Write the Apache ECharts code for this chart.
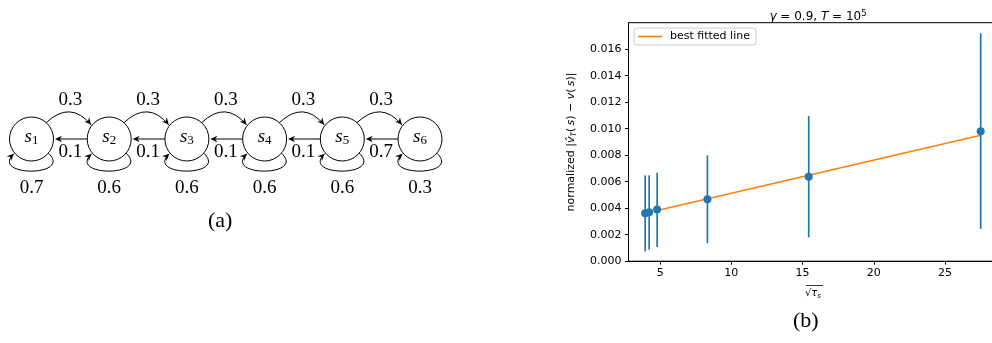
<!DOCTYPE html>
<html>
<head>
<meta charset="utf-8">
<script src="https://cdn.jsdelivr.net/npm/echarts@6/dist/echarts.min.js"></script>
<style>
  html, body { margin: 0; padding: 0; background: #fff; }
  #chart { width: 992px; height: 343px; }
</style>
</head>
<body>
<div id="chart"></div>
<script>
// (a) chain: states and transition probabilities
const states = [1, 2, 3, 4, 5, 6]
const forwardProb = [0.3, 0.3, 0.3, 0.3, 0.3] // s_i -> s_i+1
const backwardProb = [0.1, 0.1, 0.1, 0.1, 0.7] // s_i+1 -> s_i
const stayProb = [0.7, 0.6, 0.6, 0.6, 0.6, 0.3] // s_i -> s_i

// (b) error vs sqrt(tau_s)
const sqrtTau = [3.95, 4.23, 4.79, 8.32, 15.43, 27.5]
const errMean = [0.00362, 0.00370, 0.00390, 0.00468, 0.00638, 0.00981]
const errLow = [0.00074, 0.00087, 0.00108, 0.00135, 0.00180, 0.00244]
const errHigh = [0.00648, 0.00648, 0.00668, 0.00799, 0.01095, 0.01721]
const fitX = [4.79, 27.5]
const fitY = [0.00383, 0.00951]
const xTicks = [5, 10, 15, 20, 25]
const yTicks = [0, 0.002, 0.004, 0.006, 0.008, 0.010, 0.012, 0.014, 0.016]

const serif = '"Liberation Serif", "DejaVu Serif", serif'
const sans = '"DejaVu Sans", sans-serif'
const blue = '#1f77b4'
const orange = '#ff7f0e'

// arrow head (stealth-like), tip at p, pointing along unit vector d
function arrowHead(p, d) {
  const L = 7, W = 3.3, notch = 2.2
  const nx = -d[1], ny = d[0]
  const bx = p[0] - d[0] * L, by = p[1] - d[1] * L
  return {
    type: 'polygon',
    shape: {
      points: [
        p,
        [bx + nx * W, by + ny * W],
        [p[0] - d[0] * (L - notch), p[1] - d[1] * (L - notch)],
        [bx - nx * W, by - ny * W],
      ],
    },
    style: { fill: '#000' },
  }
}
function unit(a, b) {
  const dx = b[0] - a[0], dy = b[1] - a[1]
  const l = Math.hypot(dx, dy)
  return [dx / l, dy / l]
}
function probText(x, y, txt) {
  return {
    type: 'text',
    style: { text: txt, x, y, align: 'center', verticalAlign: 'middle', font: '19px ' + serif, fill: '#000' },
  }
}
const deg = Math.PI / 180

function renderForward(params, api) {
  const i = api.value(0)
  const a = api.coord([i, 0]), b = api.coord([i + 1, 0])
  const s = [a[0] + 22 * Math.cos(48 * deg), a[1] - 22 * Math.sin(48 * deg)]
  const e = [b[0] - 23 * Math.cos(38 * deg), b[1] - 23 * Math.sin(38 * deg)]
  const c = [(a[0] + b[0]) / 2, a[1] - 39]
  return {
    type: 'group',
    children: [
      { type: 'bezierCurve', shape: { x1: s[0], y1: s[1], x2: e[0], y2: e[1], cpx1: c[0], cpy1: c[1] }, style: { stroke: '#000', lineWidth: 1, fill: null } },
      arrowHead(e, unit(c, e)),
      probText((a[0] + b[0]) / 2, a[1] - 39, api.value(2).toFixed(1)),
    ],
  }
}

function renderBackward(params, api) {
  const i = api.value(0)
  const a = api.coord([i, 0]), b = api.coord([i + 1, 0])
  const tip = [a[0] + 23.5, a[1]]
  return {
    type: 'group',
    children: [
      { type: 'line', shape: { x1: b[0] - 22, y1: b[1], x2: tip[0] + 3, y2: tip[1] }, style: { stroke: '#000', lineWidth: 1 } },
      arrowHead(tip, [-1, 0]),
      probText((a[0] + b[0]) / 2, a[1] + 13, api.value(2).toFixed(1)),
    ],
  }
}

function renderLoop(params, api) {
  const a = api.coord([api.value(0), 0])
  const s = [a[0] + 22 * Math.cos(40 * deg), a[1] + 22 * Math.sin(40 * deg)]
  const e = [a[0] - 23 * Math.cos(40 * deg), a[1] + 23 * Math.sin(40 * deg)]
  const c1 = [a[0] + 42, a[1] + 38], c2 = [a[0] - 42, a[1] + 38]
  return {
    type: 'group',
    children: [
      { type: 'bezierCurve', shape: { x1: s[0], y1: s[1], x2: e[0], y2: e[1], cpx1: c1[0], cpy1: c1[1], cpx2: c2[0], cpy2: c2[1] }, style: { stroke: '#000', lineWidth: 1, fill: null } },
      arrowHead(e, unit(c2, e)),
      probText(a[0], a[1] + 49, api.value(2).toFixed(1)),
    ],
  }
}

function renderErrorBar(params, api) {
  const p1 = api.coord([api.value(0), api.value(1)])
  const p2 = api.coord([api.value(0), api.value(2)])
  return {
    type: 'line',
    shape: { x1: p1[0], y1: p1[1], x2: p2[0], y2: p2[1] },
    style: { stroke: blue, lineWidth: 1.7 },
  }
}

const chartDom = document.getElementById('chart')
const chart = echarts.init(chartDom)

const option = {
  animation: false,
  backgroundColor: '#fff',
  title: {
    text: '{i|γ} = 0.9, {i|T} = 10{sup|5}',
    left: 813,
    textAlign: 'center',
    top: 4,
    textStyle: {
      fontFamily: sans,
      fontSize: 12,
      fontWeight: 'normal',
      color: '#000',
      rich: {
        i: { fontFamily: sans, fontSize: 12, fontStyle: 'italic', lineHeight: 15, color: '#000' },
        sup: { fontFamily: sans, fontSize: 8.5, verticalAlign: 'top', lineHeight: 9, color: '#000' },
      },
    },
  },
  legend: {
    left: 634,
    top: 28,
    data: [{ name: 'best fitted line', icon: 'rect' }],
    itemWidth: 24,
    itemHeight: 1.6,
    padding: [3, 6, 3, 4],
    borderColor: '#ccc',
    borderWidth: 1,
    borderRadius: 3,
    backgroundColor: '#fff',
    textStyle: { fontFamily: sans, fontSize: 11, color: '#000', padding: [0, 0, 0, 3] },
  },
  grid: [
    // diagram area, hidden axes: state index -> x, 0 -> node row
    { left: 0, top: 39, width: 460, height: 200, show: false, outerBoundsMode: 'none' },
    { left: 628.5, top: 22.7, width: 369, height: 238.5, show: true, borderColor: '#000', borderWidth: 1, backgroundColor: 'transparent', outerBoundsMode: 'none' },
  ],
  xAxis: [
    { gridIndex: 0, type: 'value', min: 1 - 31.5 / 77.7, max: 1 - 31.5 / 77.7 + 460 / 77.7, show: false },
    {
      gridIndex: 1,
      type: 'value',
      min: 2.78,
      max: 28.68,
      axisLine: { show: true, lineStyle: { color: '#000', width: 1 } },
      axisTick: { show: true, length: 3.5, lineStyle: { color: '#000' }, customValues: xTicks },
      axisLabel: { customValues: xTicks, fontFamily: sans, fontSize: 11, color: '#000', margin: 6 },
      splitLine: { show: false },
      name: '√{t|τ}{sub|s}',
      nameLocation: 'middle',
      nameGap: 26,
      nameTextStyle: {
        fontFamily: sans,
        fontSize: 10,
        color: '#000',
        rich: {
          t: { fontFamily: sans, fontSize: 10, fontStyle: 'italic', lineHeight: 12, color: '#000' },
          sub: { fontFamily: sans, fontSize: 7, fontStyle: 'italic', verticalAlign: 'bottom', lineHeight: 6, color: '#000' },
        },
      },
    },
  ],
  yAxis: [
    { gridIndex: 0, type: 'value', min: -1, max: 1, inverse: true, show: false },
    {
      gridIndex: 1,
      type: 'value',
      min: 0,
      max: 0.0180,
      axisLine: { show: true, lineStyle: { color: '#000', width: 1 } },
      axisTick: { show: true, length: 3.5, lineStyle: { color: '#000' }, customValues: yTicks },
      axisLabel: { customValues: yTicks, fontFamily: sans, fontSize: 11, color: '#000', margin: 7, formatter: v => v.toFixed(3) },
      splitLine: { show: false },
      name: 'normalized |{i|v̂}{sub|T}(\u2009{i|s}) − {i|v}(\u2009{i|s})|',
      nameLocation: 'middle',
      nameRotate: 90,
      nameGap: 50,
      nameTextStyle: {
        fontFamily: sans,
        fontSize: 11,
        color: '#000',
        rich: {
          i: { fontFamily: sans, fontSize: 11, fontStyle: 'italic', lineHeight: 14, color: '#000' },
          sub: { fontFamily: sans, fontSize: 7.5, fontStyle: 'italic', verticalAlign: 'bottom', lineHeight: 8, color: '#000' },
        },
      },
    },
  ],
  graphic: [
    { type: 'text', left: 208, top: 210, style: { text: '(a)', font: '22px ' + serif, fill: '#000' } },
    { type: 'text', left: 793, top: 310, style: { text: '(b)', font: '22px ' + serif, fill: '#000' } },
    // overline of the square root in the x label
    { type: 'line', shape: { x1: 806, y1: 285.5, x2: 823, y2: 285.5 }, style: { stroke: '#000', lineWidth: 0.8 } },
  ],
  series: [
    {
      type: 'custom',
      xAxisIndex: 0,
      yAxisIndex: 0,
      renderItem: renderForward,
      data: forwardProb.map((p, i) => [states[i], 0, p]),
      silent: true,
    },
    {
      type: 'custom',
      xAxisIndex: 0,
      yAxisIndex: 0,
      renderItem: renderBackward,
      data: backwardProb.map((p, i) => [states[i], 0, p]),
      silent: true,
    },
    {
      type: 'custom',
      xAxisIndex: 0,
      yAxisIndex: 0,
      renderItem: renderLoop,
      data: stayProb.map((p, i) => [states[i], 0, p]),
      silent: true,
    },
    {
      type: 'scatter',
      xAxisIndex: 0,
      yAxisIndex: 0,
      symbol: 'circle',
      symbolSize: 44,
      itemStyle: { color: '#fff', borderColor: '#000', borderWidth: 1, opacity: 1 },
      label: {
        show: true,
        position: 'inside',
        offset: [0, -2],
        formatter: p => '{s|s}{sub|' + p.value[2] + '}',
        rich: {
          s: { fontFamily: serif, fontSize: 19, fontStyle: 'italic', lineHeight: 20, color: '#000' },
          sub: { fontFamily: serif, fontSize: 13, verticalAlign: 'bottom', lineHeight: 11, color: '#000' },
        },
      },
      data: states.map(s => [s, 0, s]),
      silent: true,
      z: 3,
    },
    {
      name: 'best fitted line',
      type: 'line',
      xAxisIndex: 1,
      yAxisIndex: 1,
      data: fitX.map((x, i) => [x, fitY[i]]),
      symbol: 'none',
      lineStyle: { color: orange, width: 1.5 },
      itemStyle: { color: orange },
      z: 1,
    },
    {
      type: 'custom',
      xAxisIndex: 1,
      yAxisIndex: 1,
      renderItem: renderErrorBar,
      data: sqrtTau.map((x, i) => [x, errLow[i], errHigh[i]]),
      silent: true,
      z: 2,
    },
    {
      type: 'scatter',
      xAxisIndex: 1,
      yAxisIndex: 1,
      symbol: 'circle',
      symbolSize: 8,
      itemStyle: { color: blue, opacity: 1 },
      data: sqrtTau.map((x, i) => [x, errMean[i]]),
      z: 3,
    },
  ],
}

chart.setOption(option)
window.addEventListener('resize', () => chart.resize())
</script>
</body>
</html>
